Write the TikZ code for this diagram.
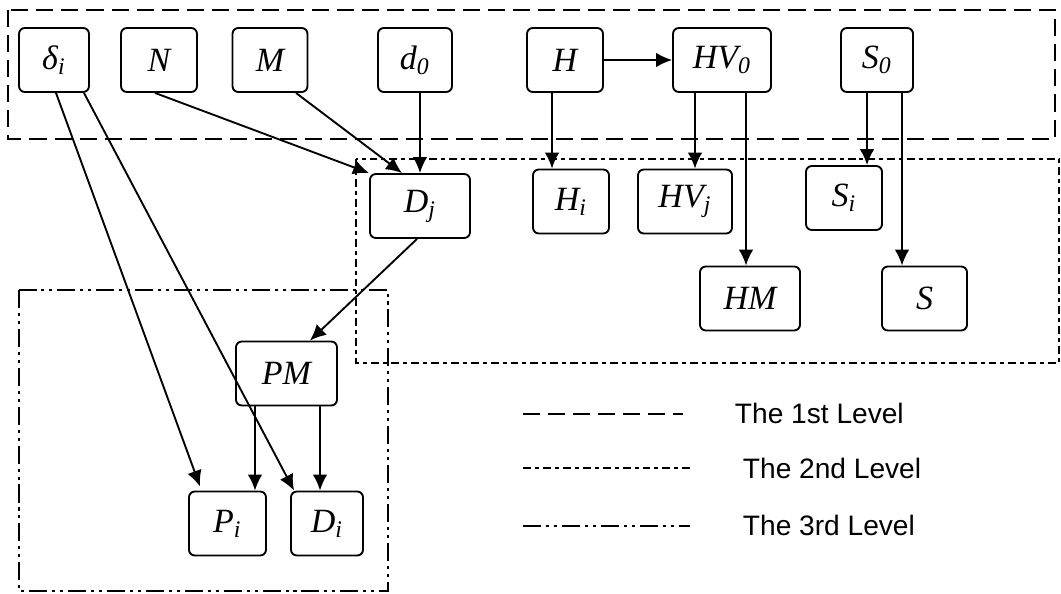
\documentclass[tikz,border=0pt]{standalone}
\usepackage{fontspec}
\setmainfont{Liberation Serif}
\newfontfamily\legendfont{Liberation Sans}
\usetikzlibrary{arrows.meta,calc}

\begin{document}
\begin{tikzpicture}[x=0.015cm, y=-0.015cm, line width=0.8pt,
  var/.style={draw, rounded corners=2.5pt, minimum height=0.96cm, inner sep=0pt,
    font=\fontsize{14.5}{17}\selectfont\itshape},
  arr/.style={-{Latex[length=2.4mm,width=2.2mm]}},
  lvlone/.style={line width=1.1pt, dash pattern=on 7.3pt off 3.4pt},
  lvltwo/.style={line width=1.1pt, dash pattern=on 3.4pt off 1.7pt on 1.7pt off 1.7pt},
  lvlthree/.style={line width=1.1pt, dash pattern=on 7.7pt off 2.1pt on 1.3pt off 2.1pt on 1.3pt off 2.1pt},
  legend/.style={anchor=west, inner sep=0pt, font=\legendfont\fontsize{12}{14}\selectfont}]
\useasboundingbox (0,0) rectangle (1061,593);

% 三个层次的框
\draw[lvlone] (8,10) rectangle (1055,139);
\draw[lvltwo] (356,159) rectangle (1059,363);
\draw[lvlthree] (19,290) rectangle (388,591);

% 第一层
\node[var, minimum width=1.05cm] (delta) at (54,60) {δ\textsubscript{i}};
\node[var, minimum width=1.14cm] (N) at (159,60) {N};
\node[var, minimum width=1.125cm] (M) at (270,60) {M};
\node[var, minimum width=1.11cm] (d0) at (415,60) {d\textsubscript{0}};
\node[var, minimum width=1.14cm] (H) at (565,60) {H};
\node[var, minimum width=1.47cm] (HV0) at (722,60) {HV\textsubscript{0}};
\node[var, minimum width=1.08cm] (S0) at (877,60) {S\textsubscript{0}};

% 第二层
\node[var, minimum width=1.5cm] (Dj) at (420,206) {D\textsubscript{j}\hspace{0.4cm}};
\node[var, minimum width=1.14cm] (Hi) at (571,201.5) {H\textsubscript{i}};
\node[var, minimum width=1.41cm] (HVj) at (685,201.5) {HV\textsubscript{j}};
\node[var, minimum width=1.14cm] (Si) at (844,198) {S\textsubscript{i}};
\node[var, minimum width=1.5cm] (HM) at (750,298.5) {HM};
\node[var, minimum width=1.275cm] (S) at (924.5,298.5) {S};

% 第三层
\node[var, minimum width=1.515cm] (PM) at (286.5,373.5) {PM};
\node[var, minimum width=1.155cm] (Pi) at (227.5,523.5) {P\textsubscript{i}};
\node[var, minimum width=1.08cm] (Di) at (327,523.5) {D\textsubscript{i}};

% 箭头
\draw[arr] ($(N.south)+(-4,0)$) -- (Dj.north west);
\draw[arr] ($(M.south)+(26,0)$) -- ($(Dj.north)+(-18,0)$);
\draw[arr] (d0.south -| Dj.north) -- (Dj.north);
\draw[arr] (H) -- (HV0);
\coordinate (hi) at ($(Hi.north)+(-19,0)$);
\draw[arr] (H.south -| hi) -- (hi);
\coordinate (hvj) at ($(HVj.north)+(10,0)$);
\draw[arr] (HV0.south -| hvj) -- (hvj);
\coordinate (hm) at ($(HM.north)+(-4,0)$);
\draw[arr] (HV0.south -| hm) -- (hm);
\coordinate (si) at ($(Si.north)+(23,0)$);
\draw[arr] (S0.south -| si) -- (si);
\coordinate (s) at ($(S.north)+(-22.5,0)$);
\draw[arr] (S0.south -| s) -- (s);
\draw[arr] ($(delta.south)+(2,0)$) -- ($(Pi.north west)+(12,-4)$);
\draw[arr] ($(delta.south)+(30,0)$) -- ($(Di.north west)+(4,0)$);
\draw[arr] ($(Dj.south)+(-3,0)$) -- ($(PM.north)+(23.5,0)$);
\coordinate (pi) at ($(Pi.north)+(27.5,0)$);
\draw[arr] (PM.south -| pi) -- (pi);
\coordinate (di) at ($(Di.north)+(-7,0)$);
\draw[arr] (PM.south -| di) -- (di);

% 图例
\draw[lvlone] (523,414) -- (683,414);
\node[legend] (one) at (734,413) {The 1st Level};
\draw[lvltwo] (523,468) -- (690,468);
\node[legend] (two) at (742,468) {The 2nd Level};
\draw[lvlthree] (523,526) -- (690,526);
\node[legend] (three) at (742,525) {The 3rd Level};
\end{tikzpicture}
\end{document}
